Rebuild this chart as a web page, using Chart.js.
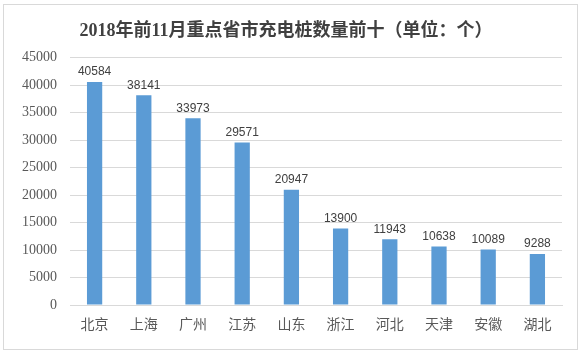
<!DOCTYPE html>
<html lang="zh">
<head>
    <meta charset="UTF-8">
    <title>2018年前11月重点省市充电桩数量前十</title>
    <script src="https://cdn.jsdelivr.net/npm/chart.js"></script>
    <style>
        body { margin: 0; background: #fff; }
        #wrap { position: relative; width: 583px; height: 354px; }
    </style>
</head>
<body>

<div id="wrap"><canvas id="chart"></canvas></div>

<script>
    const TITLE = '2018年前11月重点省市充电桩数量前十（单位：个）';
    const cities = ['北京', '上海', '广州', '江苏', '山东', '浙江', '河北', '天津', '安徽', '湖北'];
    const counts = [40584, 38141, 33973, 29571, 20947, 13900, 11943, 10638, 10089, 9288];
    const yMax = 45000;
    const yStep = 5000;

    // frame round the whole chart
    const framePlugin = {
        id: 'frame',
        beforeDraw(chart) {
            const ctx = chart.ctx;
            ctx.save();
            ctx.fillStyle = '#fff';
            ctx.fillRect(0, 0, chart.width, chart.height);
            ctx.strokeStyle = '#d9d9d9';
            ctx.lineWidth = 1;
            ctx.strokeRect(3.5, 4.5, 574, 345);
            ctx.restore();
        }
    };

    // numbers above the bars
    const valueLabels = {
        id: 'valueLabels',
        afterDatasetsDraw(chart) {
            const ctx = chart.ctx;
            const meta = chart.getDatasetMeta(0);
            ctx.save();
            ctx.font = '12px "Liberation Sans", Arial, sans-serif';
            ctx.fillStyle = '#404040';
            ctx.textAlign = 'center';
            ctx.textBaseline = 'bottom';
            meta.data.forEach((bar, i) => {
                ctx.fillText(String(counts[i]), bar.x, bar.y - 4);
            });
            ctx.restore();
        }
    };

    new Chart(document.getElementById('chart'), {
        type: 'bar',
        data: {
            labels: cities,
            datasets: [{
                data: counts,
                backgroundColor: '#5b9bd5',
                barPercentage: 0.62,
                categoryPercentage: 0.5
            }]
        },
        options: {
            responsive: true,
            maintainAspectRatio: false,
            animation: false,
            layout: { padding: { left: 10, right: 21, top: 0, bottom: 10 } },
            plugins: {
                legend: { display: false },
                tooltip: { enabled: false },
                title: {
                    display: true,
                    text: TITLE,
                    color: '#404040',
                    font: { family: '"Liberation Serif", "Noto Sans CJK SC", serif', size: 18, weight: 'bold' },
                    padding: { top: 21, bottom: 15 }
                }
            },
            scales: {
                x: {
                    grid: { display: false, drawTicks: false },
                    border: { color: '#d9d9d9' },
                    ticks: {
                        color: '#595959',
                        padding: 10,
                        font: { family: '"Noto Sans CJK SC", sans-serif', size: 14 }
                    },
                    afterFit(scale) { scale.height = 39; }
                },
                y: {
                    min: 0,
                    max: yMax,
                    grid: { color: '#d9d9d9', drawTicks: false },
                    border: { display: false },
                    ticks: {
                        stepSize: yStep,
                        color: '#595959',
                        padding: 13,
                        font: { family: '"Liberation Serif", serif', size: 14 },
                        callback: v => String(v)
                    },
                    afterFit(scale) { scale.width = 60; }
                }
            }
        },
        plugins: [framePlugin, valueLabels]
    });
</script>

</body>
</html>
